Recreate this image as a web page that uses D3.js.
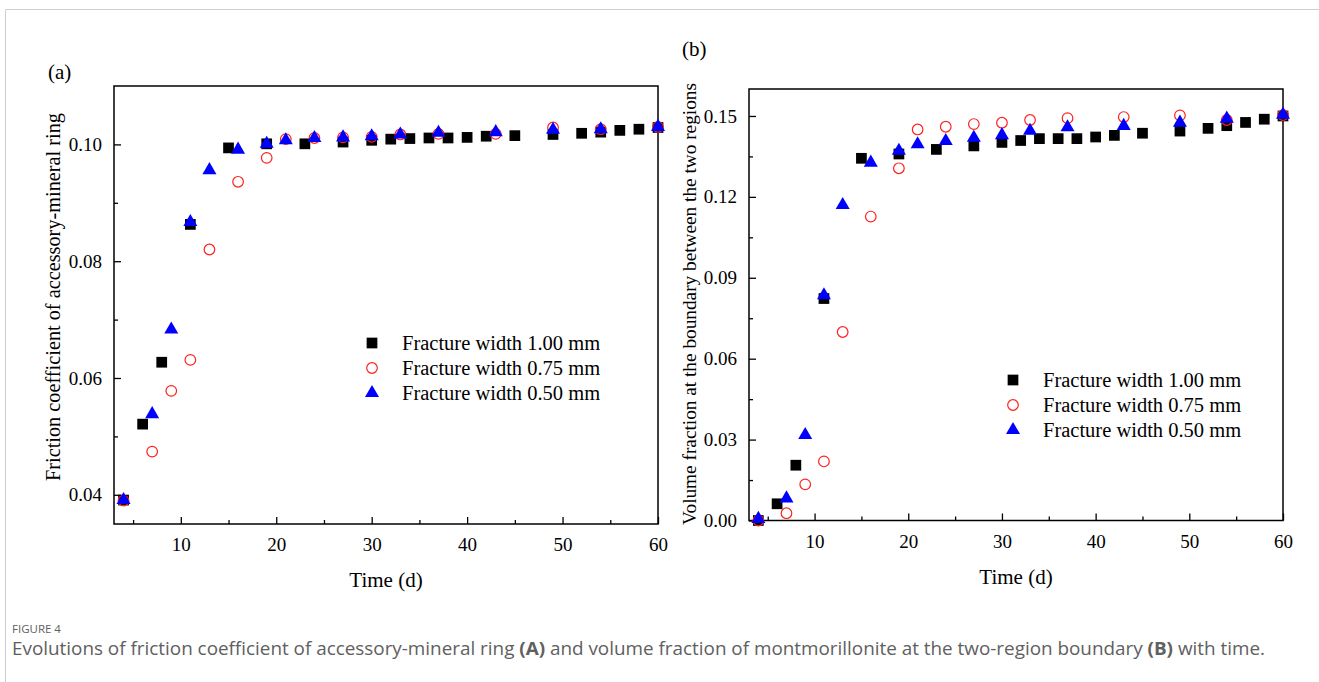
<!DOCTYPE html>
<html>
<head>
<meta charset="utf-8">
<script src="https://cdn.jsdelivr.net/npm/d3@7"></script>
<style>
  body { margin: 0; background: #fff; }
  svg { display: block; }
  .chart text { font-family: "Liberation Serif", "Times New Roman", serif; fill: #000; }
  .cap { font-family: "Open Sans", "Noto Sans", sans-serif; fill: #606060; }
</style>
</head>
<body>
<svg id="fig" width="1319" height="682"></svg>
<script>
// legend names
var seriesNames = ["Fracture width 1.00 mm", "Fracture width 0.75 mm", "Fracture width 0.50 mm"];

// panel (a) - friction coefficient of accessory-mineral ring
var daysA100 = [4, 6, 8, 11, 15, 19, 23, 27, 30, 32, 34, 36, 38, 40, 42, 45, 49, 52, 54, 56, 58, 60];
var fricA100 = [0.0391, 0.0521, 0.0627, 0.0863, 0.0994, 0.1001, 0.1001, 0.1004, 0.1007, 0.1009, 0.1010, 0.1011, 0.1011, 0.1012, 0.1014, 0.1015, 0.1017, 0.1019, 0.1021, 0.1024, 0.1026, 0.1029];
var daysA075 = [4, 7, 9, 11, 13, 16, 19, 21, 24, 27, 30, 33, 37, 43, 49, 54, 60];
var fricA075 = [0.0390, 0.0474, 0.0578, 0.0631, 0.0820, 0.0936, 0.0977, 0.1009, 0.1011, 0.1012, 0.1013, 0.1017, 0.1018, 0.1018, 0.1029, 0.1026, 0.1030];
var daysA050 = [4, 7, 9, 11, 13, 16, 19, 21, 24, 27, 30, 33, 37, 43, 49, 54, 60];
var fricA050 = [0.0391, 0.0538, 0.0683, 0.0867, 0.0956, 0.0991, 0.1001, 0.1007, 0.1011, 0.1012, 0.1014, 0.1017, 0.1020, 0.1021, 0.1025, 0.1026, 0.1030];

// panel (b) - volume fraction at the boundary between the two regions
var daysB100 = [4, 6, 8, 11, 15, 19, 23, 27, 30, 32, 34, 36, 38, 40, 42, 45, 49, 52, 54, 56, 58, 60];
var fracB100 = [0.0000, 0.0062, 0.0205, 0.0823, 0.1343, 0.1359, 0.1376, 0.1389, 0.1402, 0.1409, 0.1416, 0.1416, 0.1416, 0.1422, 0.1428, 0.1436, 0.1444, 0.1454, 0.1464, 0.1476, 0.1488, 0.1500];
var daysB075 = [4, 7, 9, 11, 13, 16, 19, 21, 24, 27, 30, 33, 37, 43, 49, 54, 60];
var fracB075 = [0.0000, 0.0027, 0.0134, 0.0219, 0.0699, 0.1127, 0.1306, 0.1450, 0.1460, 0.1470, 0.1475, 0.1485, 0.1492, 0.1496, 0.1502, 0.1485, 0.1503];
var daysB050 = [4, 7, 9, 11, 13, 16, 19, 21, 24, 27, 30, 33, 37, 43, 49, 54, 60];
var fracB050 = [0.0006, 0.0082, 0.0317, 0.0835, 0.1170, 0.1327, 0.1371, 0.1395, 0.1407, 0.1419, 0.1429, 0.1445, 0.1458, 0.1463, 0.1475, 0.1490, 0.1505];

// tick values
var xMajor = [10, 20, 30, 40, 50, 60];
var xMinor = [5, 15, 25, 35, 45, 55];
var yMajorA = [0.04, 0.06, 0.08, 0.10];
var yMinorA = [0.05, 0.07, 0.09];
var yMajorB = [0.00, 0.03, 0.06, 0.09, 0.12, 0.15];
var yMinorB = [0.015, 0.045, 0.075, 0.105, 0.135];

var svg = d3.select("#fig");

// card border
svg.append("path")
  .attr("d", "M5.5,682 V9.5 H1319")
  .attr("fill", "none")
  .attr("stroke", "#cfcfcf")
  .attr("stroke-width", 1);

var chart = svg.append("g").attr("class", "chart");

function zip(xs, ys) { return xs.map(function(x, i) { return [x, ys[i]]; }); }

function drawPanel(opt) {
  var g = chart.append("g");
  var x = d3.scaleLinear().domain([3, 60]).range([opt.left, opt.right]);
  var y = d3.scaleLinear().domain(opt.yDomain).range([opt.bottom, opt.top]);

  // frame
  g.append("rect")
    .attr("x", opt.left).attr("y", opt.top)
    .attr("width", opt.right - opt.left).attr("height", opt.bottom - opt.top)
    .attr("fill", "none").attr("stroke", "#000").attr("stroke-width", 1.5);

  // x axis, ticks inside
  var xa = g.append("g").attr("transform", "translate(0," + opt.bottom + ")")
    .call(d3.axisBottom(x).tickValues(xMajor).tickSizeInner(-7).tickSizeOuter(0).tickPadding(14).tickFormat(d3.format("d")));
  xa.append("g").call(d3.axisBottom(x).tickValues(xMinor).tickSizeInner(-4).tickSizeOuter(0).tickFormat(""));
  xa.selectAll(".domain").remove();
  xa.selectAll("line").attr("stroke", "#000").attr("stroke-width", 1.3);
  xa.selectAll("text").attr("font-size", 19).attr("font-family", "Liberation Serif");

  // y axis, ticks inside
  var ya = g.append("g").attr("transform", "translate(" + opt.left + ",0)")
    .call(d3.axisLeft(y).tickValues(opt.yMajor).tickSizeInner(-7).tickSizeOuter(0).tickPadding(12).tickFormat(d3.format(opt.yFmt)));
  ya.append("g").call(d3.axisLeft(y).tickValues(opt.yMinor).tickSizeInner(-4).tickSizeOuter(0).tickFormat(""));
  ya.selectAll(".domain").remove();
  ya.selectAll("line").attr("stroke", "#000").attr("stroke-width", 1.3);
  ya.selectAll("text").attr("font-size", 19).attr("font-family", "Liberation Serif");

  // series
  var sq = d3.symbol().type(d3.symbolSquare).size(115);
  var tri = d3.symbol().type(d3.symbolTriangle).size(85);
  var plot = g.append("g");

  plot.selectAll(".s100").data(zip(opt.d100[0], opt.d100[1])).enter().append("path")
    .attr("d", sq).attr("fill", "#000")
    .attr("transform", function(d) { return "translate(" + x(d[0]) + "," + y(d[1]) + ")"; });
  plot.selectAll(".s075").data(zip(opt.d075[0], opt.d075[1])).enter().append("circle")
    .attr("cx", function(d) { return x(d[0]); }).attr("cy", function(d) { return y(d[1]); })
    .attr("r", 5.3).attr("fill", "none").attr("stroke", "#ff2020").attr("stroke-width", 1.2);
  plot.selectAll(".s050").data(zip(opt.d050[0], opt.d050[1])).enter().append("path")
    .attr("d", tri).attr("fill", "#0000ff")
    .attr("transform", function(d) { return "translate(" + x(d[0]) + "," + y(d[1]) + ")"; });

  // legend
  var lg = g.append("g").attr("transform", "translate(" + opt.legX + "," + opt.legY + ")");
  lg.append("path").attr("d", sq).attr("fill", "#000");
  lg.append("circle").attr("cy", 25).attr("r", 5.3).attr("fill", "none").attr("stroke", "#ff2020").attr("stroke-width", 1.2);
  lg.append("path").attr("d", tri).attr("fill", "#0000ff").attr("transform", "translate(0,50)");
  lg.selectAll("text.leg").data(seriesNames).enter().append("text")
    .attr("x", 30).attr("y", function(d, i) { return i * 25 + 7; })
    .attr("font-size", 20.5).text(function(d) { return d; });

  // axis titles
  g.append("text")
    .attr("x", (opt.left + opt.right) / 2).attr("y", opt.bottom + 63)
    .attr("text-anchor", "middle").attr("font-size", 21).text("Time (d)");
  g.append("text")
    .attr("transform", "translate(" + opt.yTitleX + "," + opt.yTitleY + ") rotate(-90)")
    .attr("text-anchor", "middle").attr("font-size", opt.yTitleSize).text(opt.yTitle);

  // panel letter
  g.append("text").attr("x", opt.letX).attr("y", opt.letY).attr("font-size", 21).text(opt.letter);
}

drawPanel({
  left: 114, right: 658, top: 86, bottom: 524,
  yDomain: [0.035, 0.11], yMajor: yMajorA, yMinor: yMinorA, yFmt: ".2f",
  d100: [daysA100, fricA100], d075: [daysA075, fricA075], d050: [daysA050, fricA050],
  legX: 372, legY: 343,
  yTitle: "Friction coefficient of accessory-mineral ring", yTitleX: 60, yTitleY: 297, yTitleSize: 20.3,
  letter: "(a)", letX: 48, letY: 79
});

drawPanel({
  left: 749, right: 1283, top: 89, bottom: 520.5,
  yDomain: [0, 0.16], yMajor: yMajorB, yMinor: yMinorB, yFmt: ".2f",
  d100: [daysB100, fracB100], d075: [daysB075, fracB075], d050: [daysB050, fracB050],
  legX: 1013, legY: 380,
  yTitle: "Volume fraction at the boundary between the two regions", yTitleX: 696, yTitleY: 304, yTitleSize: 19.3,
  letter: "(b)", letX: 682, letY: 56
});

// caption
svg.append("text").attr("class", "cap").attr("x", 12).attr("y", 633)
  .attr("font-size", 11.5).text("FIGURE 4");
var cap = svg.append("text").attr("class", "cap").attr("x", 12).attr("y", 655)
  .attr("font-size", 17.5).attr("textLength", 1253).attr("lengthAdjust", "spacingAndGlyphs");
cap.append("tspan").text("Evolutions of friction coefficient of accessory-mineral ring ");
cap.append("tspan").attr("font-weight", "bold").text("(A)");
cap.append("tspan").text(" and volume fraction of montmorillonite at the two-region boundary ");
cap.append("tspan").attr("font-weight", "bold").text("(B)");
cap.append("tspan").text(" with time.");
</script>
</body>
</html>
